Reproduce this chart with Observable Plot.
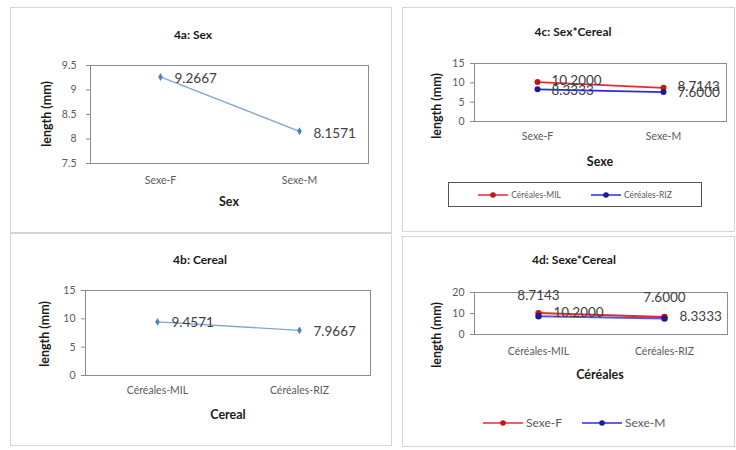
<!DOCTYPE html>
<html><head><meta charset="utf-8">
<script src="https://cdn.jsdelivr.net/npm/d3@7"></script>
<script src="https://cdn.jsdelivr.net/npm/@observablehq/plot@0.6"></script>
<style>
body{margin:0;background:#fff;font-family:Lato,"Open Sans",sans-serif;}
#root{position:relative;width:736px;height:450px;overflow:hidden;background:#fff;}
.panel{position:absolute;outline:1.5px solid #d4d4d4;outline-offset:-1.5px;background:#fff;}
.panel > svg{position:absolute;left:0;top:0;}
.t{position:absolute;white-space:nowrap;transform:translate(-50%,-50%);color:#1a1a1a;font-weight:bold;font-size:12.5px;line-height:1;}
.ttl{font-size:12px;}
.ylab{transform:translate(-50%,-50%) rotate(-90deg);}
.leg{position:absolute;display:flex;align-items:center;white-space:nowrap;color:#595959;}
.leg .it{display:flex;align-items:center;}
.leg svg{display:block;}
</style></head><body><div id="root"></div><script>
// ---- data ----
const sexes = ["Sexe-F", "Sexe-M"];
const cereals = ["Céréales-MIL", "Céréales-RIZ"];
const sexMeans = [9.2667, 8.1571];          // 4a
const cerealMeans = [9.4571, 7.9667];       // 4b
const milBySex = [10.2000, 8.7143];         // 4c Céréales-MIL (F, M)
const rizBySex = [8.3333, 7.6000];          // 4c Céréales-RIZ (F, M)
const sexeFByCereal = [10.2000, 8.3333];    // 4d Sexe-F (MIL, RIZ)
const sexeMByCereal = [8.7143, 7.6000];     // 4d Sexe-M (MIL, RIZ)
const ticksA = [7.5, 8, 8.5, 9, 9.5];
const ticks15 = [0, 5, 10, 15];
const ticks20 = [0, 10, 20];

const RED = "#e82a2a", RED_D = "#c01818", BLUE = "#2a2ae0", BLUE_D = "#1c1c8e";
const LBL = {fontSize: 13.5, fill: "#404040", fontFamily: "Lato, sans-serif"};

function chart({w, h, ml, mr, mt, mb, xdom, ydom, yticks, xpad, ypad, marks}) {
  return Plot.plot({
    width: w, height: h, marginLeft: ml, marginRight: mr, marginTop: mt, marginBottom: mb,
    style: {fontFamily: "Lato, sans-serif", fontSize: "10.5px", color: "#5a5a5a", background: "transparent", overflow: "visible"},
    x: {type: "point", domain: xdom, padding: 0.5, label: null},
    y: {domain: ydom, label: null},
    marks: [
      Plot.frame({stroke: "#8c8c8c"}),
      Plot.axisX({tickSize: 0, tickPadding: xpad, label: null}),
      Plot.axisY({ticks: yticks, tickSize: 4, tickPadding: ypad, tickFormat: d => String(d), label: null, stroke: "#8c8c8c"}),
      ...marks
    ]
  });
}

const root = document.getElementById("root");
function panel(left, top, w, h) {
  const p = document.createElement("div");
  p.className = "panel";
  Object.assign(p.style, {left: left + "px", top: top + "px", width: w + "px", height: h + "px"});
  root.appendChild(p);
  return p;
}
function txt(p, s, x, y, cls) {
  const d = document.createElement("div");
  d.className = "t " + (cls || "");
  d.textContent = s;
  Object.assign(d.style, {left: x + "px", top: y + "px"});
  p.appendChild(d);
}
function swatch(color, dark, len) {
  const ns = "http://www.w3.org/2000/svg";
  const s = document.createElementNS(ns, "svg");
  s.setAttribute("width", len); s.setAttribute("height", 10);
  s.innerHTML = `<line x1="0" y1="5" x2="${len}" y2="5" stroke="${color}" stroke-width="1.5"/><circle cx="${len/2}" cy="5" r="2.8" fill="${dark}"/>`;
  return s;
}
function legend(p, items, x, y, opts) {
  const d = document.createElement("div");
  d.className = "leg";
  Object.assign(d.style, {left: x + "px", top: y + "px", fontSize: opts.fontSize + "px", gap: opts.gap + "px"}, opts.style || {});
  for (const it of items) {
    const e = document.createElement("div");
    e.className = "it";
    e.appendChild(swatch(it.color, it.dark, opts.len));
    const t = document.createElement("span");
    t.textContent = it.label;
    t.style.marginLeft = "3px";
    e.appendChild(t);
    d.appendChild(e);
  }
  p.appendChild(d);
}

// ---- 4a ----
{
  const p = panel(10, 7, 382, 226);
  const d = sexes.map((s, i) => ({x: s, y: sexMeans[i]}));
  p.appendChild(chart({w: 382, h: 226, ml: 80, mr: 24, mt: 58, mb: 70, xdom: sexes, ydom: [7.5, 9.5], yticks: ticksA, xpad: 13, ypad: 10,
    marks: [
      Plot.line(d, {x: "x", y: "y", stroke: "#7ea6d3", strokeWidth: 1.4}),
      Plot.dot(d, {x: "x", y: "y", r: 2.4, fill: "#4f81bd", symbol: "diamond"}),
      Plot.text(d, {x: "x", y: "y", text: v => v.y.toFixed(4), dx: 14, dy: 2, textAnchor: "start", ...LBL})
    ]}));
  txt(p, "4a: Sex", 183, 28, "ttl");
  txt(p, "length (mm)", 37, 107, "ylab");
  txt(p, "Sex", 219, 195);
}
// ---- 4b ----
{
  const p = panel(10, 233, 382, 213);
  const d = cereals.map((c, i) => ({x: c, y: cerealMeans[i]}));
  p.appendChild(chart({w: 382, h: 213, ml: 75, mr: 22, mt: 57, mb: 71, xdom: cereals, ydom: [0, 15], yticks: ticks15, xpad: 11, ypad: 6,
    marks: [
      Plot.line(d, {x: "x", y: "y", stroke: "#7ea6d3", strokeWidth: 1.4}),
      Plot.dot(d, {x: "x", y: "y", r: 2.4, fill: "#4f81bd", symbol: "diamond"}),
      Plot.text(d, {x: "x", y: "y", text: v => v.y.toFixed(4), dx: 14, dy: 1, textAnchor: "start", ...LBL})
    ]}));
  txt(p, "4b: Cereal", 190, 27, "ttl");
  txt(p, "length (mm)", 35, 101, "ylab");
  txt(p, "Cereal", 218, 182);
}
// ---- 4c ----
{
  const p = panel(402, 7, 333, 225);
  const mil = sexes.map((s, i) => ({x: s, y: milBySex[i]}));
  const riz = sexes.map((s, i) => ({x: s, y: rizBySex[i]}));
  p.appendChild(chart({w: 333, h: 225, ml: 72, mr: 9, mt: 56, mb: 111, xdom: sexes, ydom: [0, 15], yticks: ticks15, xpad: 11, ypad: 6,
    marks: [
      Plot.line(mil, {x: "x", y: "y", stroke: RED, strokeWidth: 1.8}),
      Plot.line(riz, {x: "x", y: "y", stroke: BLUE, strokeWidth: 1.8}),
      Plot.dot(mil, {x: "x", y: "y", r: 3, fill: RED_D}),
      Plot.dot(riz, {x: "x", y: "y", r: 3, fill: BLUE_D}),
      Plot.text(mil, {x: "x", y: "y", text: v => v.y.toFixed(4), dx: 14, dy: -1.5, textAnchor: "start", ...LBL}),
      Plot.text(riz, {x: "x", y: "y", text: v => v.y.toFixed(4), dx: 14, dy: 1, textAnchor: "start", ...LBL})
    ]}));
  txt(p, "4c: Sex*Cereal", 171, 25, "ttl");
  txt(p, "length (mm)", 35, 99, "ylab");
  txt(p, "Sexe", 198, 155);
  legend(p, [{label: cereals[0], color: RED, dark: RED_D}, {label: cereals[1], color: BLUE, dark: BLUE_D}], 46, 175,
    {fontSize: 8.5, gap: 30, len: 30, style: {width: "254px", height: "25px", boxSizing: "border-box", border: "1.5px solid #555", justifyContent: "center"}});
}
// ---- 4d ----
{
  const p = panel(402, 236, 333, 211);
  const f = cereals.map((c, i) => ({x: c, y: sexeFByCereal[i]}));
  const m = cereals.map((c, i) => ({x: c, y: sexeMByCereal[i]}));
  p.appendChild(chart({w: 333, h: 211, ml: 72, mr: 8, mt: 56, mb: 113, xdom: cereals, ydom: [0, 20], yticks: ticks20, xpad: 13, ypad: 6,
    marks: [
      Plot.line(f, {x: "x", y: "y", stroke: RED, strokeWidth: 2}),
      Plot.line(m, {x: "x", y: "y", stroke: BLUE, strokeWidth: 2, strokeOpacity: 0.8}),
      Plot.dot(f, {x: "x", y: "y", r: 3.2, fill: RED_D}),
      Plot.dot(m, {x: "x", y: "y", r: 3.2, fill: BLUE_D}),
      Plot.text(f, {x: "x", y: "y", text: v => v.y.toFixed(4), dx: 15, dy: 0, textAnchor: "start", ...LBL}),
      Plot.text(m, {x: "x", y: "y", text: v => v.y.toFixed(4), dy: -21, textAnchor: "middle", ...LBL})
    ]}));
  txt(p, "4d: Sexe*Cereal", 172, 24, "ttl");
  txt(p, "length (mm)", 35, 99, "ylab");
  txt(p, "Céréales", 198, 139);
  legend(p, [{label: sexes[0], color: RED, dark: RED_D}, {label: sexes[1], color: BLUE, dark: BLUE_D}], 81, 179,
    {fontSize: 12, gap: 20, len: 40});
}
</script></body></html>
